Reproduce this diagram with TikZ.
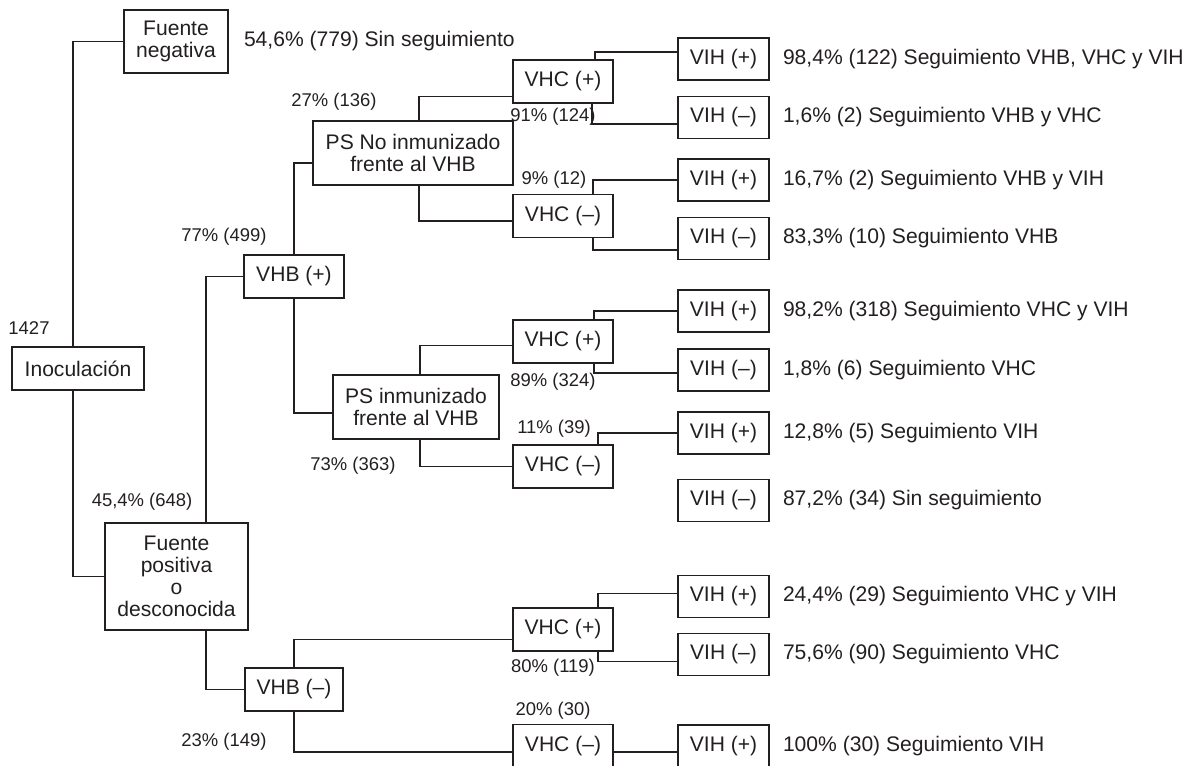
\documentclass[tikz,border=0pt]{standalone}
\usepackage{fontspec}
\setmainfont{Liberation Sans}
\usepackage{xcolor}
\usepackage{tikz}
\usetikzlibrary{positioning}
\definecolor{Cl}{RGB}{35,31,32}

\begin{document}
\begin{tikzpicture}[x=0.02cm,y=-0.02cm,
    caja/.style={draw=Cl,line width=0.75pt,text=Cl,align=center,inner sep=1pt,
      font=\fontsize{12}{12.4}\selectfont},
    vhc/.style={caja,minimum width=2cm,minimum height=0.86cm},
    vih/.style={caja,minimum width=1.82cm,minimum height=0.84cm},
    pct/.style={text=Cl,inner sep=0pt,font=\fontsize{10.5}{12}\selectfont},
    res/.style={text=Cl,inner sep=0pt,anchor=west,font=\fontsize{12}{14}\selectfont},
    rama/.style={draw=Cl,line width=0.75pt}]
    \useasboundingbox (0,0) rectangle (1192,765);
    \clip (0,0) rectangle (1192,765);

    % tronco
    \node[caja,minimum width=2.08cm,minimum height=1.26cm] (fneg) at (176,41.5) {Fuente\\negativa};
    \node[caja,minimum width=2.64cm,minimum height=0.86cm] (root) at (78,368.5) {Inoculación};
    \node[caja,minimum width=2.86cm,minimum height=2.14cm] (fpos) at (176.5,576.5) {Fuente\\positiva\\o\\desconocida};
    \node[caja,minimum width=2cm,minimum height=0.86cm] (vhbP) at (294,276.5) {VHB (+)};
    \node[caja,minimum width=1.96cm,minimum height=0.86cm] (vhbN) at (294,689.5) {VHB (–)};
    \node[caja,minimum width=4cm,minimum height=1.28cm] (psno) at (413,153) {PS No inmunizado\\frente al VHB};
    \node[caja,minimum width=3.32cm,minimum height=1.28cm] (psin) at (416,407) {PS inmunizado\\frente al VHB};
    \node[res,right=0.3cm of fneg] (resneg) {54,6\% (779) Sin seguimiento};

    \foreach \n/\y/\s in {A/81.5/+, B/216/–, C/341.5/+, D/466.5/–, E/629.5/+, F/746/–}{
      \node[vhc] (vhc\n) at (563,\y) {VHC (\s)};
    }
    \foreach \n/\y/\s/\t in {
        A/59/+/{98,4\% (122) Seguimiento VHB, VHC y VIH},
        B/117.5/–/{1,6\% (2) Seguimiento VHB y VHC},
        C/180/+/{16,7\% (2) Seguimiento VHB y VIH},
        D/238.5/–/{83,3\% (10) Seguimiento VHB},
        E/311/+/{98,2\% (318) Seguimiento VHC y VIH},
        F/370/–/{1,8\% (6) Seguimiento VHC},
        G/433/+/{12,8\% (5) Seguimiento VIH},
        H/500.5/–/{87,2\% (34) Sin seguimiento},
        I/596.5/+/{24,4\% (29) Seguimiento VHC y VIH},
        J/654.5/–/{75,6\% (90) Seguimiento VHC},
        K/746/+/{100\% (30) Seguimiento VIH}}{
      \node[vih] (vih\n) at (723.5,\y) {VIH (\s)};
      \node[res,right=0.26cm of vih\n] (res\n) {\t};
    }

    % porcentajes
    \node[pct] (n1427) at (29,328) {1427};
    \node[pct] (p136) at (334,102) {27\% (136)};
    \node[pct] (p499) at (224,237) {77\% (499)};
    \node[pct] (p648) at (142,502) {45,4\% (648)};
    \node[pct] (p363) at (353,466) {73\% (363)};
    \node[pct] (p149) at (224,742) {23\% (149)};
    \node[pct] (p124) at (553,117) {91\% (124)};
    \node[pct] (p12) at (554,180) {9\% (12)};
    \node[pct] (p324) at (553,382) {89\% (324)};
    \node[pct] (p39) at (554,429) {11\% (39)};
    \node[pct] (p119) at (553,668) {80\% (119)};
    \node[pct] (p30) at (553,711) {20\% (30)};

    % ramas
    \draw[rama] (fneg.west) -| ([xshift=-0.1cm]root.north);
    \draw[rama] ([xshift=-0.1cm]root.south) |- (fpos.west);
    \draw[rama] ([xshift=0.59cm]fpos.north) |- (vhbP.west);
    \draw[rama] ([xshift=0.59cm]fpos.south) |- (vhbN.west);
    \draw[rama] (vhbP.north) |- ([yshift=-0.2cm]psno.west);
    \draw[rama] (vhbP.south) |- ([yshift=-0.12cm]psin.west);
    \draw[rama] (vhbN.north) |- ([yshift=-0.2cm]vhcE.west);
    \draw[rama] (vhbN.south) |- ([yshift=-0.12cm]vhcF.west);
    \draw[rama] ([xshift=0.12cm]psno.north) |- ([yshift=-0.3cm]vhcA.west);
    \draw[rama] ([xshift=0.12cm]psno.south) |- ([yshift=-0.1cm]vhcB.west);
    \draw[rama] ([xshift=0.08cm]psin.north) |- ([yshift=-0.08cm]vhcC.west);
    \draw[rama] ([xshift=0.08cm]psin.south) |- (vhcD.west);
    \draw[rama] ([xshift=0.64cm]vhcA.north) |- ([yshift=0.14cm]vihA.west);
    \draw[rama] ([xshift=0.58cm]vhcA.south) |- ([yshift=-0.13cm]vihB.west);
    \draw[rama] ([xshift=0.6cm]vhcB.north) |- (vihC.west);
    \draw[rama] ([xshift=0.6cm]vhcB.south) |- ([yshift=-0.23cm]vihD.west);
    \draw[rama] ([xshift=0.62cm]vhcC.north) |- (vihE.west);
    \draw[rama] ([xshift=0.62cm]vhcC.south) |- ([yshift=-0.06cm]vihF.west);
    \draw[rama] ([xshift=0.7cm]vhcD.north) |- (vihG.west);
    \draw[rama] ([xshift=0.7cm]vhcE.north) |- ([yshift=0.06cm]vihI.west);
    \draw[rama] ([xshift=0.7cm]vhcE.south) |- ([yshift=-0.14cm]vihJ.west);
    \draw[rama] ([yshift=-0.12cm]vhcF.east) -- ([yshift=-0.12cm]vihK.west);
\end{tikzpicture}
\end{document}
